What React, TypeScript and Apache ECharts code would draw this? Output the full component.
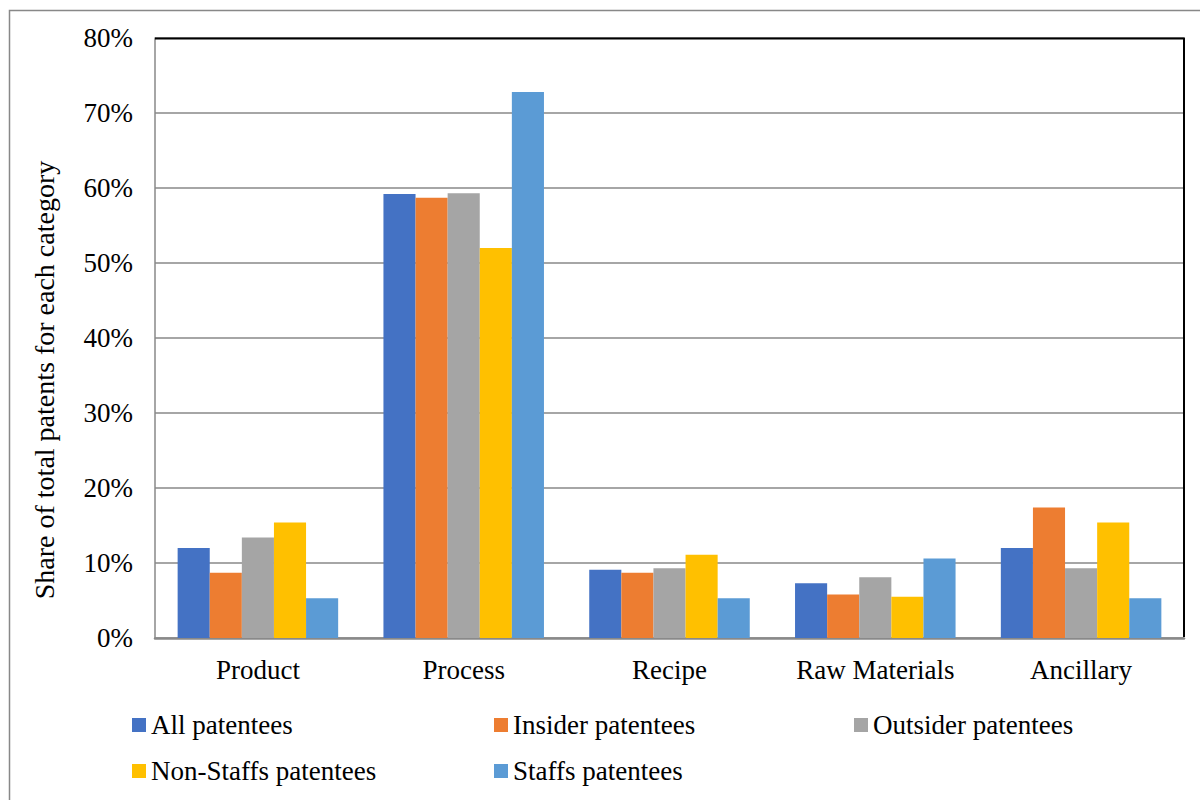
import React, { useEffect, useRef } from "react";
import * as echarts from "echarts";

const categories = ["Product", "Process", "Recipe", "Raw Materials", "Ancillary"];
const seriesNames = [
  "All patentees",
  "Insider patentees",
  "Outsider patentees",
  "Non-Staffs patentees",
  "Staffs patentees",
];
const allPatentees = [12.0, 59.2, 9.1, 7.3, 12.0];
const insiderPatentees = [8.7, 58.7, 8.7, 5.8, 17.4];
const outsiderPatentees = [13.4, 59.3, 9.3, 8.1, 9.3];
const nonStaffsPatentees = [15.4, 52.0, 11.1, 5.5, 15.4];
const staffsPatentees = [5.3, 72.8, 5.3, 10.6, 5.3];
const seriesValues = [allPatentees, insiderPatentees, outsiderPatentees, nonStaffsPatentees, staffsPatentees];
const colors = ["#4472C4", "#ED7D31", "#A5A5A5", "#FFC000", "#5B9BD5"];
const yTitle = "Share of total patents for each category";

const FONT = "Liberation Serif";

export default function App() {
  const ref = useRef<HTMLDivElement>(null);
  useEffect(() => {
    document.body.style.margin = "0";
    const chart = echarts.init(ref.current!, null, { renderer: "svg" });
    const legendPos = [
      { left: 132, top: 710 },
      { left: 494, top: 710 },
      { left: 854, top: 710 },
      { left: 132, top: 756 },
      { left: 494, top: 756 },
    ];
    chart.setOption({
      animation: false,
      backgroundColor: "#ffffff",
      color: colors,
      textStyle: { fontFamily: FONT },
      grid: { left: 155, right: 16, top: 38, bottom: 162, containLabel: false },
      legend: seriesNames.map((n, i) => ({
        data: [n],
        left: legendPos[i].left,
        top: legendPos[i].top,
        padding: 0,
        itemWidth: 14,
        itemHeight: 14,
        icon: "rect",
        textStyle: { fontFamily: FONT, fontSize: 27, color: "#000", lineHeight: 30 },
      })),
      xAxis: {
        type: "category",
        data: categories,
        axisLine: { show: true, lineStyle: { color: "#898989", width: 2.5 } },
        axisTick: { show: false },
        axisLabel: { color: "#000", fontFamily: FONT, fontSize: 27, margin: 18 },
      },
      yAxis: {
        type: "value",
        min: 0,
        max: 80,
        interval: 10,
        axisLine: { show: true, lineStyle: { color: "#898989", width: 1.5 } },
        axisTick: { show: false },
        splitLine: { show: true, lineStyle: { color: "#898989", width: 1.5 } },
        axisLabel: { color: "#000", fontFamily: FONT, fontSize: 27, margin: 22, formatter: "{value}%" },
      },
      series: seriesNames.map((n, i) => ({
        name: n,
        type: "bar",
        data: seriesValues[i],
        barGap: "0%",
        barCategoryGap: "22%",
        itemStyle: { color: colors[i] },
      })),
      graphic: [
        {
          type: "rect",
          shape: { x: 9.5, y: 10.5, width: 1200, height: 800 },
          style: { fill: "none", stroke: "#888888", lineWidth: 1.5 },
          z: 100,
        },
        {
          type: "polyline",
          shape: { points: [[155, 38.5], [1184, 38.5], [1184, 637]] },
          style: { fill: "none", stroke: "#000000", lineWidth: 2 },
          z: 100,
        },
        {
          type: "text",
          x: 44,
          y: 380,
          rotation: Math.PI / 2,
          style: {
            text: yTitle,
            fontFamily: FONT,
            fontSize: 28,
            fill: "#000",
            align: "center",
            verticalAlign: "middle",
          },
          z: 100,
        },
      ],
    });
    return () => chart.dispose();
  }, []);
  return <div ref={ref} style={{ width: 1200, height: 800 }} />;
}
